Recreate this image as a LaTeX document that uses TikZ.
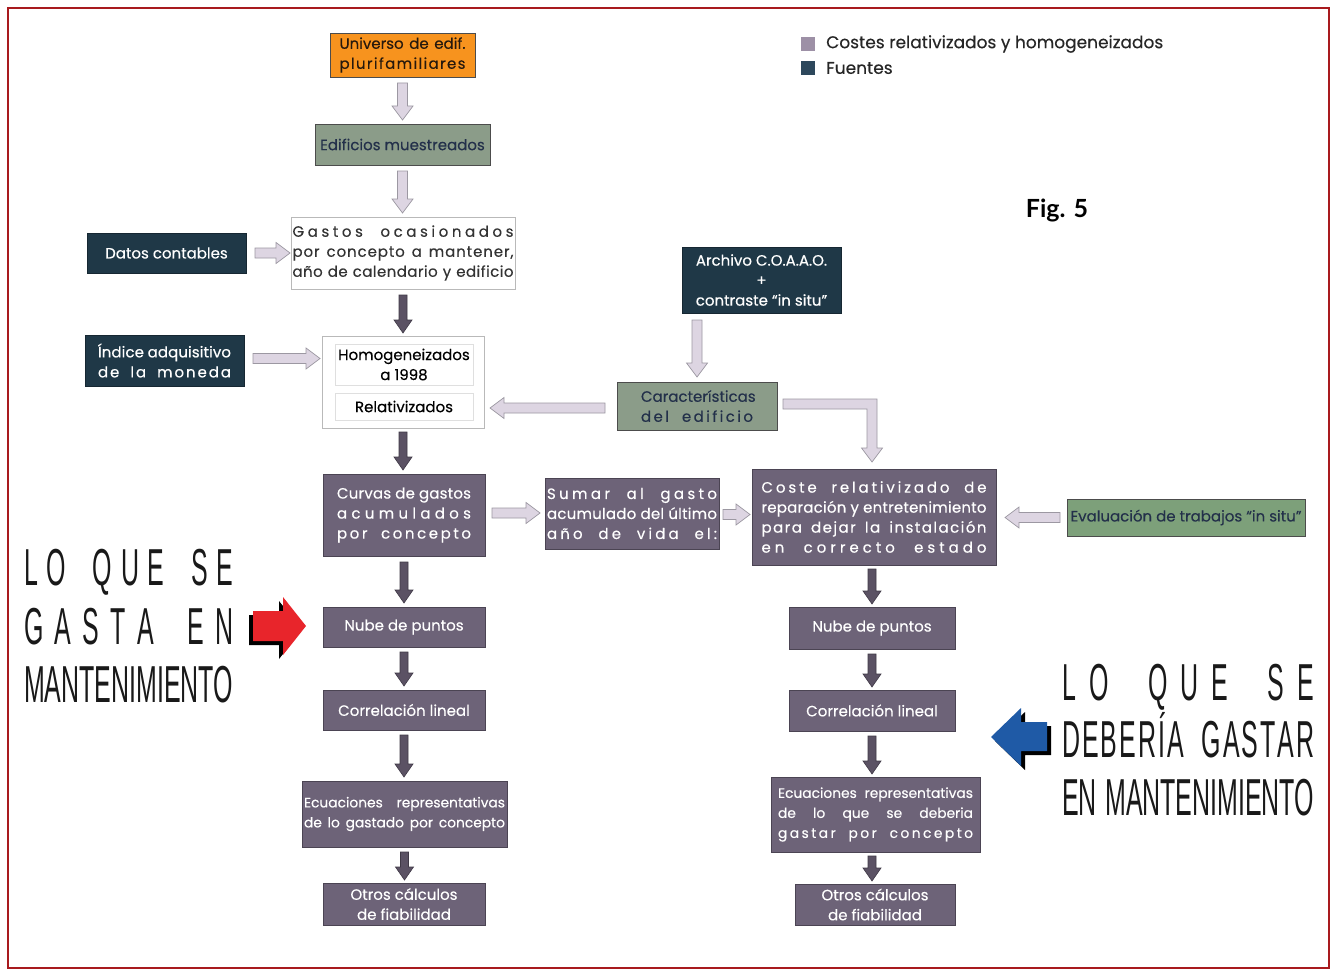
\documentclass[tikz,border=0pt]{standalone}
\usepackage{fontspec}
\setmainfont{Poppins}[FakeBold=0.3]
\newfontfamily\condfont[FakeStretch=0.48]{Liberation Sans}
\newfontfamily\figfont{Lato}
\usetikzlibrary{calc}

\definecolor{boxpurple}{HTML}{6D6378}
\definecolor{boxedge}{HTML}{4B4453}
\definecolor{srcnavy}{HTML}{1F3847}
\definecolor{sagegray}{HTML}{8B9C89}
\definecolor{sagegreen}{HTML}{7DA07A}
\definecolor{univorange}{HTML}{F7931E}
\definecolor{lightarr}{HTML}{DDD5E2}
\definecolor{lightarredge}{HTML}{9C98A2}
\definecolor{darkarr}{HTML}{5B5264}
\definecolor{darkarredge}{HTML}{3F3946}
\definecolor{framered}{HTML}{A81A1E}
\definecolor{navytext}{HTML}{23304A}
\definecolor{legpurple}{HTML}{9D90A6}
\definecolor{legnavy}{HTML}{2D485C}
\definecolor{arrowred}{HTML}{E8252B}
\definecolor{arrowblue}{HTML}{1F5AA6}

\newcommand\boxfont{\fontsize{15}{20}\selectfont}
\newcommand\smallboxfont{\fontsize{13.8}{20}\selectfont}
% a line stretched to a given width
\newcommand\jl[2]{\makebox[#1][s]{#2}}
% letter-spaced word: glue between every pair of characters
\def\ls#1{\lsFirst#1\relax}
\def\lsFirst#1{#1\lsNext}
\def\lsNext#1{\ifx#1\relax\else\hfil#1\expandafter\lsNext\fi}
% gap between letter-spaced words
\newcommand\wg{\hspace{0.22em plus 4fil}}

% block arrows: style, start, tip, half shaft, half head, head length
\newcommand\blkdown[6]{\draw[#1] let \p1=(#2), \p2=(#3) in
  (\x1-#4,\y1) -- (\x1+#4,\y1) -- (\x1+#4,\y2+#6) -- (\x1+#5,\y2+#6) -- (\x1,\y2)
  -- (\x1-#5,\y2+#6) -- (\x1-#4,\y2+#6) -- cycle;}
\newcommand\blkright[6]{\draw[#1] let \p1=(#2), \p2=(#3) in
  (\x1,\y1-#4) -- (\x2-#6,\y1-#4) -- (\x2-#6,\y1-#5) -- (\x2,\y1) -- (\x2-#6,\y1+#5)
  -- (\x2-#6,\y1+#4) -- (\x1,\y1+#4) -- cycle;}
\newcommand\blkleft[6]{\draw[#1] let \p1=(#2), \p2=(#3) in
  (\x1,\y1-#4) -- (\x2+#6,\y1-#4) -- (\x2+#6,\y1-#5) -- (\x2,\y1) -- (\x2+#6,\y1+#5)
  -- (\x2+#6,\y1+#4) -- (\x1,\y1+#4) -- cycle;}
\newcommand\lightdown[2]{\blkdown{lightarrow}{#1}{#2}{5pt}{10.5pt}{14pt}}
\newcommand\lightright[2]{\blkright{lightarrow}{#1}{#2}{5pt}{10.5pt}{14pt}}
\newcommand\lightleft[2]{\blkleft{lightarrow}{#1}{#2}{5pt}{10.5pt}{14pt}}
\newcommand\darkdown[2]{\blkdown{darkarrow}{#1}{#2}{4pt}{9pt}{13pt}}

\begin{document}
\begin{tikzpicture}[x=1pt,y=-1pt,
  box/.style={rectangle, inner sep=0pt, outer sep=0pt, align=center, font=\boxfont, line width=0.8pt},
  costbox/.style={box, fill=boxpurple, draw=boxedge, text=white},
  srcbox/.style={box, fill=srcnavy, draw=srcnavy!70!black, text=white},
  sagebox/.style={box, fill=sagegray, draw=gray!60!black, text=navytext},
  whitebox/.style={box, fill=white, draw=gray!55, text=black!80},
  lightarrow/.style={fill=lightarr, draw=lightarredge, line width=0.7pt},
  darkarrow/.style={fill=darkarr, draw=darkarredge, line width=0.6pt},
  bigtext/.style={inner sep=0pt, anchor=base west, font=\condfont\fontsize{52}{52}\selectfont, text=black!90},
  legtext/.style={inner sep=0pt, anchor=west, font=\fontsize{17}{20}\selectfont, text=black!85}
]
\useasboundingbox (0,0) rectangle (1332,971);
\fill[white] (0,0) rectangle (1332,971);
\draw[framered, line width=2.5pt] (8,8) rectangle (1329,968);

% legend
\fill[legpurple] (801,37) rectangle (815,51);
\fill[legnavy] (801,61) rectangle (815,75);
\node[legtext] (legcost) at (826,44) {Costes relativizados y homogeneizados};
\node[legtext] (legsrc) at (826,68) {Fuentes};
\node[inner sep=0pt, font=\figfont\bfseries\fontsize{25}{25}\selectfont] (fig) at (1057,210) {Fig. 5};

% left column
\node[box, fill=univorange, draw=gray!60!black, text=black!80!brown, minimum width=145pt, minimum height=44pt] (univ) at (402.5,55)
  {\jl{126pt}{Universo de edif.}\\ \jl{126pt}{\ls{plurifamiliares}}};
\node[sagebox, minimum width=175pt, minimum height=41pt] (edif) at (402.5,144.5) {Edificios muestreados};
\node[whitebox, minimum width=224pt, minimum height=72pt] (gastos) at (403,253)
  {\jl{221pt}{\ls{Gastos}\wg\ls{ocasionados}}\\
   \jl{221pt}{\ls{por}\wg\ls{concepto}\wg\ls{a}\wg\ls{mantener,}}\\
   \jl{221pt}{\ls{año}\wg\ls{de}\wg\ls{calendario}\wg\ls{y}\wg\ls{edificio}}};
\node[srcbox, minimum width=159pt, minimum height=40pt] (datos) at (166.5,253) {Datos contables};
\node[srcbox, minimum width=159pt, minimum height=51pt] (indice) at (164.5,360.5)
  {\jl{133pt}{\ls{Índice}\wg\ls{adquisitivo}}\\ \jl{133pt}{\ls{de}\wg\ls{la}\wg\ls{moneda}}};
\node[whitebox, minimum width=162pt, minimum height=92pt] (homog) at (403,382) {};
\node[box, draw=gray!25, text=black, minimum width=138pt, minimum height=41pt] (inner1) at (404,364.5)
  {Homogeneizados\\a 1998};
\node[box, draw=gray!25, text=black, minimum width=138pt, minimum height=27pt] (inner2) at (404,406.5)
  {Relativizados};

% sources on the right
\node[srcbox, minimum width=159pt, minimum height=66pt] (archivo) at (761.5,280)
  {Archivo C.O.A.A.O.\\+\\contraste “in situ”};
\node[sagebox, minimum width=160pt, minimum height=48pt] (caract) at (697,406)
  {\jl{112pt}{\ls{Características}}\\ \jl{112pt}{\ls{del}\wg\ls{edificio}}};

% cost chain, left
\node[costbox, minimum width=162pt, minimum height=82pt] (curvas) at (404,515)
  {\jl{134pt}{\ls{Curvas}\wg\ls{de}\wg\ls{gastos}}\\ \jl{134pt}{\ls{acumulados}}\\ \jl{134pt}{\ls{por}\wg\ls{concepto}}};
\node[costbox, minimum width=174pt, minimum height=71pt] (sumar) at (632,513.5)
  {\jl{170pt}{\ls{Sumar}\wg\ls{al}\wg\ls{gasto}}\\ \jl{170pt}{\ls{acumulado}\wg\ls{del}\wg\ls{último}}\\
   \jl{170pt}{\ls{año}\wg\ls{de}\wg\ls{vida}\wg\ls{el:}}};
\node[costbox, minimum width=244pt, minimum height=96pt] (coste) at (874,517)
  {\jl{225pt}{\ls{Coste}\wg\ls{relativizado}\wg\ls{de}}\\ \jl{225pt}{\ls{reparación}\wg\ls{y}\wg\ls{entretenimiento}}\\
   \jl{225pt}{\ls{para}\wg\ls{dejar}\wg\ls{la}\wg\ls{instalación}}\\ \jl{225pt}{\ls{en}\wg\ls{correcto}\wg\ls{estado}}};
\node[box, fill=sagegreen, draw=gray!60!black, text=navytext, minimum width=238pt, minimum height=37pt] (evalua) at (1186,517.5)
  {Evaluación de trabajos “in situ”};

\node[costbox, minimum width=162pt, minimum height=40pt] (nubeL) at (404,627) {Nube de puntos};
\node[costbox, minimum width=162pt, minimum height=40pt] (corrL) at (404,710) {Correlación lineal};
\node[costbox, font=\smallboxfont, minimum width=205pt, minimum height=66pt] (ecuL) at (404.5,814)
  {\jl{201pt}{Ecuaciones\hfill representativas}\\ \jl{201pt}{de lo gastado por concepto}};
\node[costbox, minimum width=162pt, minimum height=42pt] (otrosL) at (404,904) {Otros cálculos\\de fiabilidad};

% cost chain, right
\node[costbox, minimum width=166pt, minimum height=42pt] (nubeR) at (872,628) {Nube de puntos};
\node[costbox, minimum width=166pt, minimum height=41pt] (corrR) at (872,710.5) {Correlación lineal};
\node[costbox, font=\smallboxfont, minimum width=209pt, minimum height=75pt] (ecuR) at (875.5,814.5)
  {\jl{195pt}{Ecuaciones representativas}\\ \jl{195pt}{de lo que se deberia}\\
   \jl{195pt}{\ls{gastar}\wg\ls{por}\wg\ls{concepto}}};
\node[costbox, minimum width=160pt, minimum height=41pt] (otrosR) at (875,904.5) {Otros cálculos\\de fiabilidad};

% light arrows
\lightdown{$(univ.south)+(0,6)$}{$(edif.north)+(0,-4)$}
\lightdown{$(edif.south)+(0,6)$}{$(gastos.north)+(0,-4)$}
\lightright{$(datos.east)+(9,0)$}{$(gastos.west)+(-1,0)$}
\lightright{$(indice.east)+(9,-2)$}{$(homog.west)+(-2,0)$}
\lightdown{$(caract.north |- archivo.south)+(0,7)$}{$(caract.north)+(0,-5)$}
\lightleft{$(caract.west)+(-12,2)$}{$(homog.east)+(6,0)$}
\lightright{$(curvas.east)+(7,-2)$}{$(sumar.west)+(-5,0)$}
\lightright{$(sumar.east)+(4,1)$}{$(coste.west)+(-2,0)$}
\lightleft{$(evalua.west)+(-7,0)$}{$(coste.east)+(9,0)$}
% elbow from the building data down to the relative cost
\draw[lightarrow] let \p1=($(caract.east)+(6,-2)$), \p2=($(coste.north)+(-2,-7)$) in
  (\x1,\y1+5pt) -- (\x2+5pt,\y1+5pt) -- (\x2+5pt,\y2+14pt) -- (\x2+10.5pt,\y2+14pt) -- (\x2,\y2)
  -- (\x2-10.5pt,\y2+14pt) -- (\x2-5pt,\y2+14pt) -- (\x2-5pt,\y1-5pt) -- (\x1,\y1-5pt) -- cycle;

% dark arrows
\darkdown{$(gastos.south)+(0,6)$}{$(homog.north)+(0,-3)$}
\darkdown{$(homog.south)+(0,4)$}{$(curvas.north)+(0,-4)$}
\darkdown{$(curvas.south)+(0,6)$}{$(nubeL.north)+(0,-4)$}
\darkdown{$(nubeL.south)+(0,5)$}{$(corrL.north)+(0,-4)$}
\darkdown{$(corrL.south)+(0,5)$}{$(ecuL.north)+(0,-4)$}
\darkdown{$(ecuL.south)+(0,5)$}{$(otrosL.north)+(0,-3)$}
\darkdown{$(nubeR.north |- coste.south)+(0,4)$}{$(nubeR.north)+(0,-3)$}
\darkdown{$(nubeR.south)+(0,5)$}{$(corrR.north)+(0,-3)$}
\darkdown{$(corrR.south)+(0,5)$}{$(corrR.south |- ecuR.north)+(0,-3)$}
\darkdown{$(corrR.south |- ecuR.south)+(0,4)$}{$(corrR.south |- otrosR.north)+(0,-3)$}

% big pointer arrows with drop shadow
\fill[black] (249,615) -- (279,615) -- (279,601) -- (302,630) -- (279,659) -- (279,645) -- (249,645) -- cycle;
\fill[arrowred] (253,611) -- (283,611) -- (283,597) -- (306,626) -- (283,655) -- (283,641) -- (253,641) -- cycle;
\fill[black] (1051,726) -- (1025,726) -- (1025,712) -- (995,741) -- (1025,770) -- (1025,755) -- (1051,755) -- cycle;
\fill[arrowblue] (1047,722) -- (1021,722) -- (1021,708) -- (991,737) -- (1021,766) -- (1021,751) -- (1047,751) -- cycle;

% slogans
\node[bigtext] (gastaA) at (24,585) {\jl{209pt}{L\hfil O\hfil\hfil\hfil Q\hfil U\hfil E\hfil\hfil\hfil S\hfil E}};
\node[bigtext] (gastaB) at (24,644) {\jl{209pt}{G\hfil A\hfil S\hfil T\hfil A\hfil\hfil\hfil E\hfil N}};
\node[bigtext] (gastaC) at (24,702) {\jl{209pt}{MANTENIMIENTO}};
\node[bigtext] (deberA) at (1062,700) {\jl{252pt}{L\hfil O\hfil\hfil\hfil Q\hfil U\hfil E\hfil\hfil\hfil S\hfil E}};
\node[bigtext] (deberB) at (1062,757) {\jl{252pt}{\ls{DEBERÍA}\hspace{12pt plus 3fil}\ls{GASTAR}}};
\node[bigtext] (deberC) at (1062,815) {\jl{252pt}{EN MANTENIMIENTO}};
\end{tikzpicture}
\end{document}
